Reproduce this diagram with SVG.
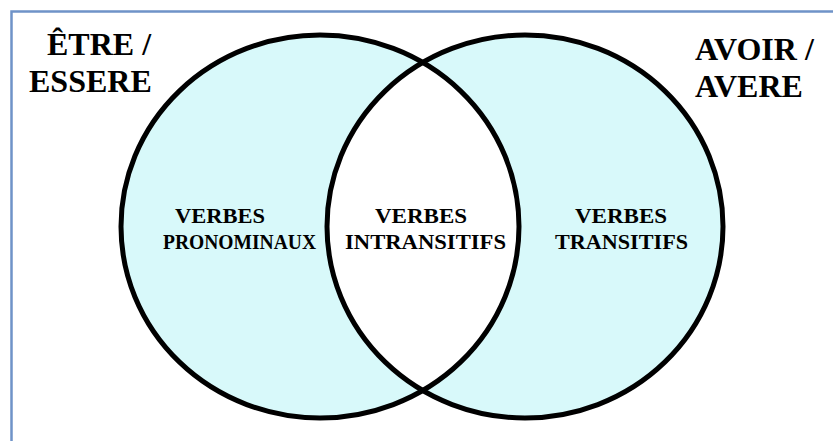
<svg xmlns="http://www.w3.org/2000/svg" width="833" height="441" viewBox="0 0 833 441">
  <defs>
    <style>
      .frame { fill: none; stroke: #6f93c8; stroke-width: 2.5; }
      .set { fill: #d8f9fa; stroke: none; }
      .ring { fill: none; stroke: #000; stroke-width: 5; }
      .title { font-family: "Liberation Serif", "Times New Roman", serif; font-weight: bold; font-size: 32px; fill: #000; }
      .label { font-family: "Liberation Serif", "Times New Roman", serif; font-weight: bold; font-size: 21px; fill: #000; }
    </style>
    <clipPath id="clipLeft">
      <ellipse cx="320" cy="226.5" rx="199" ry="191.5"/>
    </clipPath>
  </defs>
  <rect x="0" y="0" width="833" height="441" fill="#ffffff"/>
  <g id="frame">
    <polyline class="frame" points="11.5,441 11.5,11.5 833,11.5"/>
  </g>
  <g id="sets">
    <ellipse class="set" cx="320" cy="226.5" rx="199" ry="191.5"/>
    <ellipse class="set" cx="525" cy="226.5" rx="198" ry="191.5"/>
    <ellipse cx="525" cy="226.5" rx="198" ry="191.5" fill="#ffffff" clip-path="url(#clipLeft)"/>
  </g>
  <g id="node-etre">
    <ellipse class="ring" cx="320" cy="226.5" rx="199" ry="191.5"/>
    <text class="title" x="47" y="55">ÊTRE /</text>
    <text class="title" x="29" y="92">ESSERE</text>
  </g>
  <g id="node-avoir">
    <ellipse class="ring" cx="525" cy="226.5" rx="198" ry="191.5"/>
    <text class="title" x="695" y="60">AVOIR /</text>
    <text class="title" x="695" y="97">AVERE</text>
  </g>
  <g id="node-pronominaux">
    <text class="label" x="175" y="223" textLength="90" lengthAdjust="spacingAndGlyphs">VERBES</text>
    <text class="label" x="163" y="249" textLength="153" lengthAdjust="spacingAndGlyphs">PRONOMINAUX</text>
  </g>
  <g id="node-intransitifs">
    <text class="label" x="375" y="223" textLength="92" lengthAdjust="spacingAndGlyphs">VERBES</text>
    <text class="label" x="345" y="249" textLength="161" lengthAdjust="spacingAndGlyphs">INTRANSITIFS</text>
  </g>
  <g id="node-transitifs">
    <text class="label" x="575" y="223" textLength="92" lengthAdjust="spacingAndGlyphs">VERBES</text>
    <text class="label" x="555" y="249" textLength="133" lengthAdjust="spacingAndGlyphs">TRANSITIFS</text>
  </g>
  <g id="connectors"/>
</svg>
